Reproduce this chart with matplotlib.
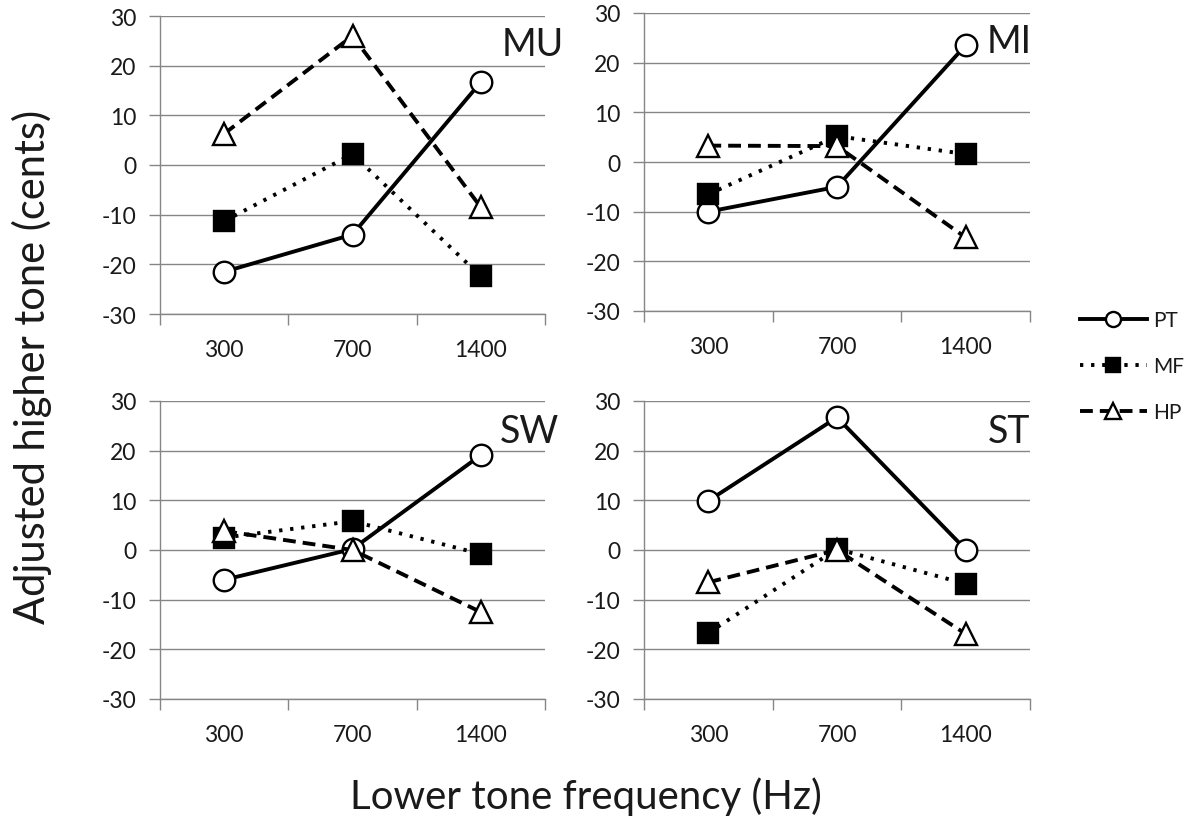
import matplotlib
matplotlib.use("Agg")
import matplotlib.pyplot as plt

plt.rcParams['font.family'] = ['Lato', 'DejaVu Sans']

categories = ["300", "700", "1400"]
series_names = ["PT", "MF", "HP"]
panels = ["MU", "MI", "SW", "ST"]

MU_PT = [-21.5, -14.0, 16.7]
MU_MF = [-11.3, 2.2, -22.4]
MU_HP = [6.3, 26.0, -8.5]

MI_PT = [-10.0, -5.0, 23.5]
MI_MF = [-6.5, 5.2, 1.6]
MI_HP = [3.3, 3.2, -15.2]

SW_PT = [-6.0, 0.2, 19.1]
SW_MF = [2.5, 5.8, -0.8]
SW_HP = [3.8, 0.0, -12.5]

ST_PT = [9.9, 26.7, 0.1]
ST_MF = [-16.7, 0.2, -6.8]
ST_HP = [-6.5, 0.0, -16.9]

y_ticks = [-30, -20, -10, 0, 10, 20, 30]

data = {
    "MU": [MU_PT, MU_MF, MU_HP],
    "MI": [MI_PT, MI_MF, MI_HP],
    "SW": [SW_PT, SW_MF, SW_HP],
    "ST": [ST_PT, ST_MF, ST_HP],
}

W, H = 1192, 820
fig = plt.figure(figsize=(W / 100, H / 100), dpi=100)

# pixel boxes: left, right, top, bottom
boxes = {
    "MU": (160, 545, 17, 315),
    "MI": (644, 1030, 14, 312),
    "SW": (160, 545, 402, 700),
    "ST": (644, 1030, 402, 700),
}
label_pos = {  # left, top of panel label (pixels)
    "MU": (502, 33),
    "MI": (987, 30),
    "SW": (500, 420),
    "ST": (988, 420),
}

grid_c = "#868686"
txt_c = "#1a1a1a"
lw = 2.8
styles = [
    dict(linestyle="-", marker="o", markerfacecolor="white", lw=lw),
    dict(linestyle=(0, (0.85, 2.0)), marker="s", markerfacecolor="black",
         lw=lw),
    dict(linestyle=(0, (3.3, 1.8)), marker="^", markerfacecolor="white",
         lw=lw),
]
msizes = [15.5, 14.5, 16.5]

x = list(range(len(categories)))
handles = []
for p in panels:
    l, r, t, b = boxes[p]
    ax = fig.add_axes([l / W, 1 - b / H, (r - l) / W, (b - t) / H])
    for i, (vals, st) in enumerate(zip(data[p], styles)):
        ln, = ax.plot(x, vals, color="black", markersize=msizes[i],
                      markeredgecolor="black", markeredgewidth=1.7,
                      zorder=3 + i, clip_on=False, **st)
        if p == "MU":
            handles.append(ln)
    ax.set_xlim(-0.5, len(categories) - 0.5)
    ax.set_ylim(-30, 30)
    ax.set_yticks(y_ticks)
    ax.set_yticklabels([str(v) for v in y_ticks])
    ax.set_xticks([-0.5 + k for k in range(len(categories) + 1)])
    ax.set_xticklabels([])
    ax.set_xticks(x, minor=True)
    ax.set_xticklabels(categories, minor=True)
    ax.tick_params(axis="x", which="major", length=8, width=1, color=grid_c,
                   direction="out")
    ax.tick_params(axis="x", which="minor", length=0, pad=18, labelsize=16.5,
                   labelcolor=txt_c)
    ax.tick_params(axis="y", length=8, width=1, color=grid_c, direction="out",
                   pad=9, labelsize=16.5, labelcolor=txt_c)
    for s in ["top", "right"]:
        ax.spines[s].set_visible(False)
    for s in ["left", "bottom"]:
        ax.spines[s].set_color(grid_c)
        ax.spines[s].set_linewidth(1.0)
    ax.yaxis.grid(True, color=grid_c, lw=1.0)
    ax.set_axisbelow(True)
    lx, ly = label_pos[p]
    fig.text(lx / W, 1 - (ly - 6) / H, p, fontsize=27, color=txt_c,
             ha="left", va="top")

fig.legend(handles, series_names, loc="center left",
           bbox_to_anchor=(1080 / W, 1 - 367 / H), frameon=False,
           fontsize=15, handlelength=3.2, handletextpad=0.3,
           labelspacing=1.25, markerscale=0.7, borderpad=0, borderaxespad=0,
           labelcolor=txt_c)

fig.text(32 / W, 1 - 367 / H, "Adjusted higher tone (cents)", rotation=90,
         fontsize=30, color=txt_c, ha="center", va="center")
fig.text(586 / W, 1 - 797 / H, "Lower tone frequency (Hz)",
         fontsize=29, color=txt_c, ha="center", va="center")

fig.savefig("out.png", dpi=100)
